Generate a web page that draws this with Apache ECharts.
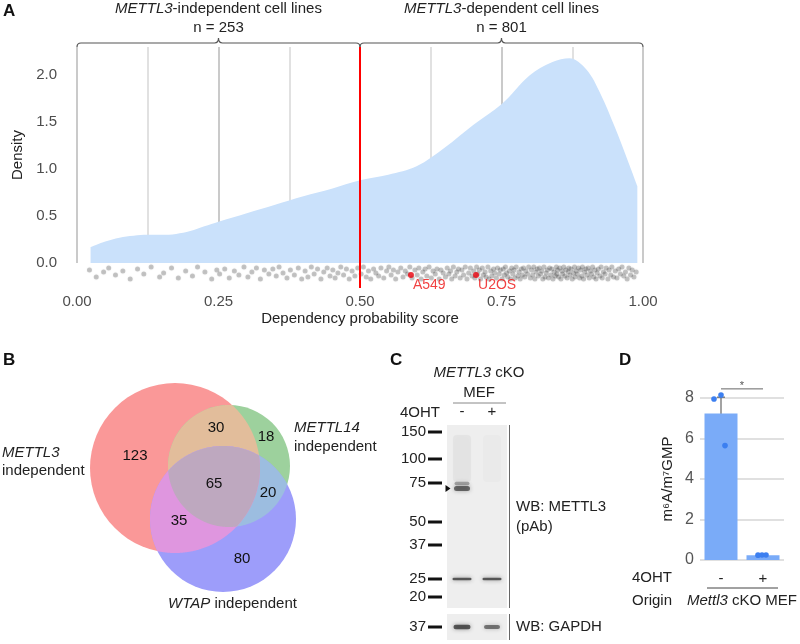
<!DOCTYPE html>
<html><head><meta charset="utf-8">
<script src="https://cdn.jsdelivr.net/npm/echarts@6/dist/echarts.min.js"></script>
<style>html,body{margin:0;padding:0;background:#fff}#c{width:800px;height:644px}</style>
</head><body><div id="c"></div>
<script>
const FONT = '"Liberation Sans", Arial, Helvetica, sans-serif';

// ---------- Panel A data ----------
const densityX = [0.024,0.05,0.075,0.1,0.125,0.15,0.175,0.2,0.225,0.25,0.3,0.35,0.4,0.45,0.5,0.55,0.6,0.65,0.7,0.75,0.8,0.84,0.87,0.9,0.925,0.95,0.975,0.99];
const densityY = [0.17,0.23,0.27,0.29,0.30,0.30,0.31,0.34,0.39,0.44,0.53,0.62,0.71,0.79,0.88,0.94,1.03,1.23,1.47,1.69,2.00,2.14,2.18,2.06,1.80,1.45,1.06,0.82];
const stripPoints = [
[.022,.3],[.034,-.4],[.047,.1],
[.056,.5],[.068,-.2],[.081,.2],[.094,-.6],
[.107,.4],[.118,-.1],[.131,.6],[.146,-.4],
[.153,.0],[.167,.5],[.179,-.5],[.192,.2],
[.204,-.3],[.213,.6],[.226,.1],[.238,-.6],[.247,.3],
[.252,-.1],[.261,.4],[.269,-.5],[.278,.2],[.286,-.2],[.295,.6],
[.302,-.4],[.309,.1],[.317,.5],[.324,-.6],[.331,.3],[.339,-.1],[.346,.4],
[.352,-.3],[.357,.6],[.364,.0],[.371,-.5],[.377,.3],[.384,-.2],[.391,.5],[.397,-.6],
[.403,.2],[.408,-.4],[.414,.6],[.419,-.1],[.425,.4],[.431,-.6],[.436,.1],[.442,.5],[.447,-.3],
[.452,.3],[.456,-.5],[.461,.0],[.466,.6],[.471,-.2],[.476,.4],[.481,-.6],[.486,.2],[.491,-.3],[.496,.5],
[.502,-.1],[.506,.6],[.511,-.4],[.515,.2],[.519,-.6],[.524,.4],[.528,.0],[.533,-.3],[.537,.5],[.542,-.5],[.547,.2],
[.551,.6],[.555,-.2],[.559,.3],[.563,-.6],[.567,.1],[.572,.5],[.576,-.4],[.580,.2],[.584,-.1],[.588,.6],[.592,-.5],[.597,.3],
[.601,-.2],[.604,.5],[.608,-.6],[.611,.1],[.615,.4],[.618,-.3],[.622,.6],[.626,-.5],[.629,.2],[.633,-.1],[.636,.4],[.640,-.6],[.643,.3],[.647,.0],
[.651,-.4],[.654,.5],[.657,-.1],[.660,.2],[.662,-.6],[.665,.6],[.668,-.3],[.671,.1],[.674,.4],[.677,-.5],[.680,.3],[.683,-.2],[.686,.6],[.689,-.6],[.692,.0],[.695,.5],[.698,-.3],
[.701,.2],[.703,-.5],[.706,.6],[.708,-.1],[.711,.3],[.713,-.6],[.716,.5],[.718,-.2],[.721,.1],[.723,-.4],[.726,.6],[.728,-.6],[.731,.2],[.733,-.3],[.736,.4],[.738,.0],[.741,-.5],[.743,.5],[.746,-.1],[.748,.3],
[.751,-.6],[.753,.4],[.755,-.2],[.757,.6],[.759,.0],[.761,-.4],[.764,.2],[.766,-.6],[.768,.5],[.770,-.1],[.772,.3],[.774,-.5],[.776,.6],[.779,-.3],[.781,.1],[.783,-.6],[.785,.4],[.787,-.2],[.789,.5],[.791,-.4],[.793,.2],[.796,-.1],[.798,.6],
[.801,-.5],[.803,.3],[.805,-.2],[.807,.6],[.809,-.6],[.811,.1],[.813,.4],[.815,-.3],[.817,.5],[.819,-.1],[.821,.2],[.823,-.6],[.825,.6],[.827,-.4],[.829,.0],[.831,.3],[.833,-.5],[.835,.5],[.837,-.2],[.839,.4],[.841,-.6],[.843,.1],[.845,-.3],[.847,.6],[.848,-.1],[.849,.3],
[.851,-.4],[.853,.5],[.855,-.6],[.857,.2],[.858,-.1],[.860,.6],[.862,-.3],[.864,.3],[.866,-.5],[.868,.1],[.869,.5],[.871,-.2],[.873,.4],[.875,-.6],[.877,.0],[.879,.6],[.880,-.4],[.882,.2],[.884,-.1],[.886,.5],[.888,-.5],[.890,.3],[.892,-.3],[.893,.6],[.895,-.6],[.897,.1],[.899,.4],
[.901,-.2],[.903,.5],[.905,-.5],[.907,.2],[.909,-.1],[.911,.6],[.913,-.4],[.915,.3],[.917,-.6],[.919,.0],[.921,.4],[.924,-.3],[.926,.6],[.928,-.5],[.930,.1],[.933,-.1],[.935,.5],[.938,-.6],[.940,.3],[.943,-.2],[.945,.6],[.948,-.4],
[.951,.2],[.954,-.5],[.957,.4],[.960,-.1],[.963,.6],[.966,-.3],[.969,.1],[.972,-.6],[.975,.5],[.978,-.2],[.981,.3],[.984,-.4],[.988,.1]
];
const highlightLines = ['A549', 'U2OS'];
const highlightScores = [0.59, 0.705];
const thresholdScore = 0.5;
const groupNames = ['METTL3', 'METTL3'];
const groupSuffix = ['-independent cell lines', '-dependent cell lines'];
const groupCounts = [253, 801];
const groupRanges = [[0, 0.5], [0.5, 1]];

// ---------- Panel B data ----------
const vennSetNames = ['METTL3', 'METTL14', 'WTAP'];
const vennRegionSets = [[0], [0,1], [1], [0,1,2], [1,2], [0,2], [2]];
const vennCounts = [123, 30, 18, 65, 20, 35, 80];

// ---------- Panel C data ----------
const blotLanes = ['-', '+'];
const ladderKDa = ['150', '100', '75', '50', '37', '25', '20'];
const ladderMigration = [7, 34, 58, 97, 120, 154, 172];
const gapdhLadderKDa = ['37'];
const gapdhLadderMigration = [13];
// [lane, migration, thickness, width, intensity]
const mettl3Bands = [[0, 58.5, 3.5, 15, 0.35], [0, 63.5, 5, 16, 0.62], [0, 154, 2.6, 19, 0.7], [1, 154, 2.6, 19, 0.7]];
const gapdhBands = [[0, 13, 4.5, 17, 0.7], [1, 13, 4, 16, 0.55]];

// ---------- Panel D data ----------
const barCats = ['-', '+'];
const barMeans = [7.24, 0.24];
const barSem = [0.80, 0.01];
const replicateValues = [[7.95, 8.15, 5.65], [0.24, 0.25, 0.25]];
const replicateJitterPx = [[-7, 0, 4], [-5, -1, 3]];

// ---------- layout (positions in local units) ----------
const vennCircles = [
  {cx: 95, cy: 98, r: 85, color: '#fa9898'},
  {cx: 149, cy: 96, r: 61, color: '#9dd19d'},
  {cx: 143, cy: 149, r: 73, color: '#9d9dfa'}
];
const vennRegionColors = ['#fa9898', '#e2bd9b', '#9dd19d', '#bea8bf', '#9cbde0', '#df96df', '#9d9dfa'];
const vennLabelPos = [[55, 86], [136, 58], [186, 67], [134, 114], [188, 123], [99, 151], [162, 189]];

function regionPolygon(sets) {
  const pts = [];
  sets.forEach(i => {
    const c = vennCircles[i];
    for (let k = 0; k < 720; k++) {
      const a = k / 720 * Math.PI * 2;
      const p = [c.cx + c.r * Math.cos(a), c.cy + c.r * Math.sin(a)];
      let ok = true;
      sets.forEach(j => {
        if (j === i) return;
        const d = vennCircles[j];
        if (Math.hypot(p[0] - d.cx, p[1] - d.cy) > d.r + 1e-9) ok = false;
      });
      if (ok) pts.push(p);
    }
  });
  const cx = pts.reduce((s, p) => s + p[0], 0) / pts.length;
  const cy = pts.reduce((s, p) => s + p[1], 0) / pts.length;
  pts.sort((a, b) => Math.atan2(a[1] - cy, a[0] - cx) - Math.atan2(b[1] - cy, b[0] - cx));
  return pts;
}

function txt(x, y, text, opts) {
  opts = opts || {};
  const align = opts.align || 'left';
  const fill = opts.color || '#222';
  const size = opts.size || 15;
  return {
    type: 'text', x: x, y: y, silent: true,
    style: {
      text: text, fill: fill, fontSize: size, fontFamily: FONT,
      fontWeight: opts.weight || 'normal', fontStyle: opts.style || 'normal',
      align: align, verticalAlign: 'middle', textAlign: align, textVerticalAlign: 'middle',
      rich: {i: {fontStyle: 'italic', fontSize: size, fontFamily: FONT, fill: fill}}
    }
  };
}
function line(x1, y1, x2, y2, color, w) {
  return {type: 'line', silent: true, shape: {x1, y1, x2, y2}, style: {stroke: color, lineWidth: w || 1}};
}

const chart = echarts.init(document.getElementById('c'), null, {renderer: 'canvas'});

function bandRender(params, api) {
  const c = api.coord([api.value(0), api.value(1)]);
  const t = api.value(2), w = api.value(3), a = api.value(4);
  return {type: 'rect', shape: {x: c[0] - w / 2, y: c[1] - t / 2, width: w, height: t, r: t / 2},
    style: {fill: 'rgba(35,35,35,' + a + ')', shadowBlur: 4, shadowColor: 'rgba(35,35,35,' + (a * 0.9) + ')'}};
}

const option = {
  animation: false,
  backgroundColor: '#fff',
  grid: [
    {left: 77, top: 47, width: 566, height: 216},   // 0 density
    {left: 77, top: 263, width: 566, height: 25},   // 1 strip
    {left: 80, top: 370, width: 230, height: 240},  // 2 venn
    {left: 447, top: 425, width: 60, height: 183},  // 3 blot METTL3
    {left: 447, top: 614, width: 60, height: 26},   // 4 blot GAPDH
    {left: 700, top: 398, width: 84, height: 162}   // 5 bars
  ],
  xAxis: [
    {gridIndex: 0, type: 'value', min: 0, max: 1, interval: 0.25,
      axisLine: {show: false}, axisTick: {show: false}, axisLabel: {show: false},
      splitLine: {show: true, lineStyle: {color: '#bdbdbd', width: 1.6}},
      minorTick: {show: false, splitNumber: 2},
      minorSplitLine: {show: true, lineStyle: {color: '#dadada', width: 1.6}}},
    {gridIndex: 1, type: 'value', min: 0, max: 1, interval: 0.25,
      axisLine: {show: false}, axisTick: {show: false}, splitLine: {show: false},
      axisLabel: {color: '#4d4d4d', fontSize: 15, fontFamily: FONT, margin: 6, formatter: v => v.toFixed(2)},
      name: 'Dependency probability score', nameLocation: 'middle', nameGap: 23,
      nameTextStyle: {color: '#222', fontSize: 15, fontFamily: FONT}},
    {gridIndex: 2, type: 'value', min: 0, max: 230, show: false},
    {gridIndex: 3, type: 'category', data: blotLanes, position: 'top',
      axisLine: {show: false}, axisTick: {show: false},
      axisLabel: {color: '#222', fontSize: 15, fontFamily: FONT, margin: 6}},
    {gridIndex: 4, type: 'category', data: blotLanes, show: false},
    {gridIndex: 5, type: 'category', data: barCats,
      axisLine: {show: false}, axisTick: {show: false},
      axisLabel: {color: '#222', fontSize: 15, fontFamily: FONT, margin: 11}}
  ],
  yAxis: [
    {gridIndex: 0, type: 'value', min: 0, max: 2.3, interval: 0.5,
      axisLine: {show: false}, axisTick: {show: false}, splitLine: {show: false},
      axisLabel: {color: '#4d4d4d', fontSize: 15, fontFamily: FONT, margin: 20, showMaxLabel: false, formatter: v => v.toFixed(1)},
      name: 'Density', nameLocation: 'middle', nameGap: 50,
      nameTextStyle: {color: '#222', fontSize: 15, fontFamily: FONT}},
    {gridIndex: 1, type: 'value', min: -1.5, max: 1.0, show: false},
    {gridIndex: 2, type: 'value', min: 0, max: 240, inverse: true, show: false},
    {gridIndex: 3, type: 'value', min: 0, max: 183, inverse: true, show: false},
    {gridIndex: 4, type: 'value', min: 0, max: 26, inverse: true, show: false},
    {gridIndex: 5, type: 'value', min: 0, max: 8, interval: 2,
      axisLine: {show: false}, axisTick: {show: false},
      splitLine: {show: true, lineStyle: {color: '#d6d6d6', width: 1.5}},
      axisLabel: {color: '#555', fontSize: 16, fontFamily: FONT, margin: 6},
      name: 'm⁶A/m⁷GMP', nameLocation: 'middle', nameGap: 25,
      nameTextStyle: {color: '#222', fontSize: 15, fontFamily: FONT}}
  ],
  series: [
    // density area
    {type: 'line', xAxisIndex: 0, yAxisIndex: 0, data: densityX.map((x, i) => [x, densityY[i]]),
      smooth: 0.35, showSymbol: false, silent: true,
      lineStyle: {width: 0, color: '#cae1fb'}, areaStyle: {color: '#cae1fb', opacity: 1},
      markLine: {silent: true, symbol: 'none', label: {show: false},
        lineStyle: {color: '#ff0000', width: 2, type: 'solid'}, data: [{xAxis: thresholdScore}]}},
    // braces + group headers
    {type: 'custom', xAxisIndex: 0, yAxisIndex: 0, silent: true,
      data: groupRanges.map(r => [(r[0] + r[1]) / 2, 2.3]),
      renderItem: function (params, api) {
        const i = params.dataIndex;
        const r = groupRanges[i];
        const a = api.coord([r[0], 2.3]);
        const b = api.coord([r[1], 2.3]);
        const m = (a[0] + b[0]) / 2;
        const yb = a[1] - 4;
        const d = 'M' + a[0] + ' ' + a[1] + ' Q' + a[0] + ' ' + yb + ' ' + (a[0] + 4) + ' ' + yb +
          ' L' + (m - 4) + ' ' + yb + ' Q' + m + ' ' + yb + ' ' + m + ' ' + (yb - 5) +
          ' Q' + m + ' ' + yb + ' ' + (m + 4) + ' ' + yb +
          ' L' + (b[0] - 4) + ' ' + yb + ' Q' + b[0] + ' ' + yb + ' ' + b[0] + ' ' + a[1];
        return {type: 'group', children: [
          {type: 'path', shape: {pathData: d}, style: {fill: null, stroke: '#555', lineWidth: 1.2}},
          txt(m, yb - 34, '{i|' + groupNames[i] + '}' + groupSuffix[i], {align: 'center'}),
          txt(m, yb - 15, 'n = ' + groupCounts[i], {align: 'center'})
        ]};
      }},
    // jittered strip
    {type: 'scatter', xAxisIndex: 1, yAxisIndex: 1, data: stripPoints, symbolSize: 5, silent: true,
      itemStyle: {color: 'rgba(40,40,40,0.3)', shadowBlur: 2, shadowColor: 'rgba(40,40,40,0.3)'},
      markLine: {silent: true, symbol: 'none', label: {show: false},
        lineStyle: {color: '#ff0000', width: 2, type: 'solid'}, data: [{xAxis: thresholdScore}]}},
    // highlighted cell lines
    {type: 'scatter', xAxisIndex: 1, yAxisIndex: 1, symbolSize: 6, silent: true,
      data: highlightScores.map((x, i) => ({value: [x, -0.2], name: highlightLines[i]})),
      itemStyle: {color: '#e8000b'},
      label: {show: true, formatter: '{b}', position: 'bottom', distance: 0, align: 'left', offset: [2, 0],
        color: '#ee1111', fontSize: 14, fontFamily: FONT}},
    // Venn circles and overlaps
    {type: 'custom', xAxisIndex: 2, yAxisIndex: 2, silent: true, data: [[0, 0]],
      renderItem: function (params, api) {
        const children = [];
        vennCircles.forEach(c => {
          const p = api.coord([c.cx, c.cy]);
          const r = api.size([c.r, 0])[0];
          children.push({type: 'circle', shape: {cx: p[0], cy: p[1], r: r}, style: {fill: c.color}});
        });
        const order = vennRegionSets.map((s, k) => k).filter(k => vennRegionSets[k].length > 1)
          .sort((a, b) => vennRegionSets[a].length - vennRegionSets[b].length);
        order.forEach(k => {
          const pts = regionPolygon(vennRegionSets[k]).map(p => api.coord(p));
          children.push({type: 'polygon', shape: {points: pts}, style: {fill: vennRegionColors[k]}});
        });
        return {type: 'group', children: children};
      }},
    // Venn counts
    {type: 'custom', xAxisIndex: 2, yAxisIndex: 2, silent: true,
      data: vennCounts.map((c, i) => [vennLabelPos[i][0], vennLabelPos[i][1], c]),
      renderItem: function (params, api) {
        const p = api.coord([api.value(0), api.value(1)]);
        return txt(p[0], p[1], String(api.value(2)), {align: 'center', color: '#111', size: 15});
      }},
    // Blot METTL3 frame + ladder
    {type: 'custom', xAxisIndex: 3, yAxisIndex: 3, silent: true, data: [[0, 0]],
      renderItem: function (params, api) {
        const cs = params.coordSys;
        const ch = [{type: 'rect', shape: {x: cs.x, y: cs.y, width: cs.width, height: cs.height}, style: {fill: '#eeeeee'}}];
        const l0 = api.coord([0, 10]);
        const l0b = api.coord([0, 57]);
        ch.push({type: 'rect', shape: {x: l0[0] - 9, y: l0[1], width: 18, height: l0b[1] - l0[1], r: 4},
          style: {fill: 'rgba(120,120,120,0.07)', shadowBlur: 6, shadowColor: 'rgba(120,120,120,0.15)'}});
        const l1 = api.coord([1, 10]);
        ch.push({type: 'rect', shape: {x: l1[0] - 9, y: l1[1], width: 18, height: l0b[1] - l0[1], r: 4},
          style: {fill: 'rgba(120,120,120,0.03)', shadowBlur: 6, shadowColor: 'rgba(120,120,120,0.06)'}});
        ladderKDa.forEach((k, i) => {
          const y = api.coord([0, ladderMigration[i]])[1];
          ch.push(txt(cs.x - 21, y, k, {align: 'right', color: '#222'}));
          ch.push({type: 'rect', shape: {x: cs.x - 19, y: y - 1.5, width: 14, height: 3}, style: {fill: '#111'}});
        });
        const ya = api.coord([0, 63.5])[1];
        ch.push({type: 'polygon', shape: {points: [[cs.x - 1.5, ya - 3.5], [cs.x + 3.5, ya], [cs.x - 1.5, ya + 3.5]]}, style: {fill: '#111'}});
        return {type: 'group', children: ch};
      }},
    {type: 'custom', xAxisIndex: 4, yAxisIndex: 4, silent: true, data: [[0, 0]],
      renderItem: function (params, api) {
        const cs = params.coordSys;
        const ch = [{type: 'rect', shape: {x: cs.x, y: cs.y, width: cs.width, height: cs.height}, style: {fill: '#eeeeee'}}];
        gapdhLadderKDa.forEach((k, i) => {
          const y = api.coord([0, gapdhLadderMigration[i]])[1];
          ch.push(txt(cs.x - 21, y, k, {align: 'right', color: '#222'}));
          ch.push({type: 'rect', shape: {x: cs.x - 19, y: y - 1.5, width: 14, height: 3}, style: {fill: '#111'}});
        });
        return {type: 'group', children: ch};
      }},
    // bands
    {type: 'custom', xAxisIndex: 3, yAxisIndex: 3, silent: true, data: mettl3Bands,
      renderItem: bandRender},
    {type: 'custom', xAxisIndex: 4, yAxisIndex: 4, silent: true, data: gapdhBands,
      renderItem: bandRender},
    // bars
    {type: 'bar', xAxisIndex: 5, yAxisIndex: 5, data: barMeans, barWidth: 33, silent: true,
      itemStyle: {color: '#7aabf8'}},
    // error bars
    {type: 'custom', xAxisIndex: 5, yAxisIndex: 5, silent: true,
      data: barMeans.map((m, i) => [i, m, barSem[i]]),
      renderItem: function (params, api) {
        const s = api.value(2);
        if (s < 0.05) return null;
        const hi = api.coord([api.value(0), api.value(1) + s]);
        const lo = api.coord([api.value(0), api.value(1) - s]);
        return {type: 'group', children: [
          line(hi[0], hi[1], lo[0], lo[1], '#666', 1.2),
          line(hi[0] - 4, hi[1], hi[0] + 4, hi[1], '#666', 1.2),
          line(lo[0] - 4, lo[1], lo[0] + 4, lo[1], '#666', 1.2)
        ]};
      }},
    // replicate dots
    {type: 'custom', xAxisIndex: 5, yAxisIndex: 5, silent: true, z: 5,
      data: [].concat(...replicateValues.map((vals, i) => vals.map((v, k) => [i, v, replicateJitterPx[i][k]]))),
      renderItem: function (params, api) {
        const p = api.coord([api.value(0), api.value(1)]);
        return {type: 'circle', shape: {cx: p[0] + api.value(2), cy: p[1], r: 2.8}, style: {fill: '#3c7ff0'}};
      }},
    // significance bracket
    {type: 'custom', xAxisIndex: 5, yAxisIndex: 5, silent: true, data: [[0, 8.45]],
      renderItem: function (params, api) {
        const a = api.coord([0, 8.45]);
        const b = api.coord([1, 8.45]);
        return {type: 'group', children: [
          line(a[0], a[1], b[0], b[1], '#666', 1),
          txt((a[0] + b[0]) / 2, a[1] - 3, '*', {align: 'center', color: '#555', size: 11})
        ]};
      }}
  ],
  graphic: [
    txt(3, 11, 'A', {weight: 'bold', size: 17, color: '#111'}),
    txt(3, 360, 'B', {weight: 'bold', size: 17, color: '#111'}),
    txt(390, 360, 'C', {weight: 'bold', size: 17, color: '#111'}),
    txt(619, 360, 'D', {weight: 'bold', size: 17, color: '#111'}),
    // Venn set labels
    txt(2, 453, '{i|' + vennSetNames[0] + '}'),
    txt(2, 471, 'independent'),
    txt(294, 428, '{i|' + vennSetNames[1] + '}'),
    txt(294, 447, 'independent'),
    txt(168, 604, '{i|' + vennSetNames[2] + '} independent'),
    // Panel C texts
    txt(479, 373, '{i|METTL3} cKO', {align: 'center'}),
    txt(479, 393, 'MEF', {align: 'center'}),
    line(453, 403, 506, 403, '#888', 1),
    txt(440, 413, '4OHT', {align: 'right'}),
    line(509.5, 425, 509.5, 608, '#666', 1),
    line(509.5, 614, 509.5, 640, '#666', 1),
    txt(516, 507, 'WB: METTL3'),
    txt(516, 527, '(pAb)'),
    txt(516, 627, 'WB: GAPDH'),
    // Panel D texts
    txt(672, 578, '4OHT', {align: 'right'}),
    txt(672, 601, 'Origin', {align: 'right'}),
    line(707, 588, 778, 588, '#444', 1),
    txt(742, 601, '{i|Mettl3} cKO MEF', {align: 'center'})
  ]
};

chart.setOption(option);
</script>
</body></html>
